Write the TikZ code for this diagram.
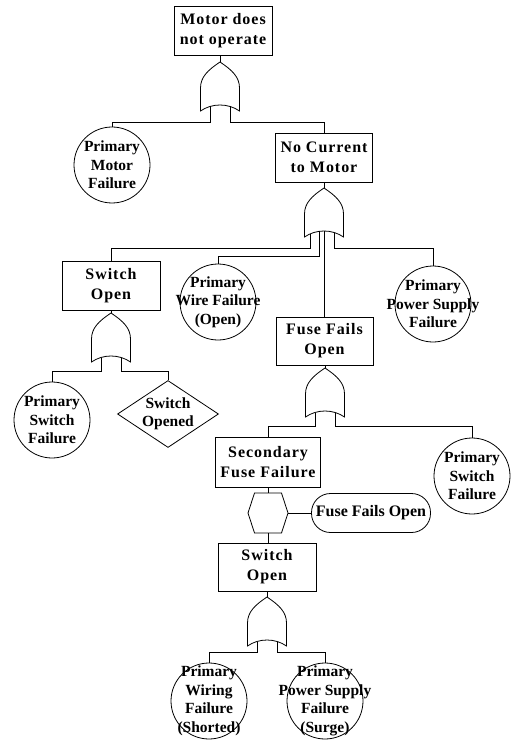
\documentclass[tikz,border=0pt]{standalone}
\usepackage{fontspec}
\setmainfont{Liberation Serif}
\newfontfamily\spacedfont[LetterSpace=6]{Liberation Serif}
\usepackage{tikz}
\usetikzlibrary{shapes.geometric}
\tikzset{ event_box/.style = {rectangle, draw, align=center, inner sep=0pt, minimum width=98pt, minimum height=49pt, font=\spacedfont\bfseries\fontsize{16}{20}\selectfont} }
\tikzset{ basic_event/.style = {circle, draw, align=center, inner sep=-15pt, minimum size=76pt, font=\bfseries\fontsize{15.5}{18.5}\selectfont} }
\tikzset{ undev_event/.style = {diamond, draw, align=center, inner sep=0pt, aspect=1.5, minimum width=101pt, minimum height=66pt, font=\bfseries\fontsize{15.5}{18.5}\selectfont} }
\tikzset{ cond_event/.style = {rectangle, rounded corners=19pt, draw, align=center, inner sep=0pt, minimum width=119pt, minimum height=39pt, font=\bfseries\fontsize{16}{20}\selectfont} }
\tikzset{ or_gate/.pic = {
                        \draw (0,0) .. controls (-12,8) and (-19.5,15) .. (-19.5,26) -- (-19.5,49)
                                .. controls (-8,41) and (8,41) .. (19.5,49) -- (19.5,26)
                                .. controls (19.5,15) and (12,8) .. (0,0) -- cycle;
                        \coordinate (-top) at (0,0);
                        \coordinate (-ll) at (-14,45.9);
                        \coordinate (-l) at (-10,44.5);
                        \coordinate (-lm) at (-5,43.4);
                        \coordinate (-m) at (0,43);
                        \coordinate (-r) at (10,44.5);
                } }
\tikzset{ inhibit_gate/.pic = {
                        \draw (-13.5,-20) -- (13.5,-20) -- (20,0) -- (13.5,20) -- (-13.5,20) -- (-20,0) -- cycle;
                        \coordinate (-top) at (0,-20);
                        \coordinate (-bot) at (0,20);
                        \coordinate (-right) at (20,0);
                } }

\begin{document}
\begin{tikzpicture}[x=1pt, y=-1pt, line width=0.8pt]
                        \useasboundingbox (0,0) rectangle (514,743);
                        % events
                        \node[event_box] (top) at (223, 30.5) {Motor does\\not operate};
                        \node[basic_event] (pmf) at (112, 165) {Primary\\Motor\\Failure};
                        \node[event_box, minimum width=97pt] (nocur) at (324, 157.5) {No Current\\to Motor};
                        \node[event_box] (swo) at (111, 285.5) {Switch\\Open};
                        \node[basic_event] (pwf) at (218, 302) {Primary\\Wire Failure\\(Open)};
                        \node[basic_event] (psf) at (433, 304) {Primary\\Power Supply\\Failure};
                        \node[basic_event] (psw) at (52, 420) {Primary\\Switch\\Failure};
                        \node[undev_event] (sop) at (168, 414) {Switch\\Opened};
                        \node[event_box, minimum width=97pt, minimum height=48pt] (fuse) at (324.5, 341) {Fuse Fails\\Open};
                        \node[event_box, minimum width=105pt, minimum height=50pt] (sec) at (268, 462) {Secondary\\Fuse Failure};
                        \node[basic_event] (psw2) at (472, 476) {Primary\\Switch\\Failure};
                        \node[cond_event] (ffo) at (371, 513) {Fuse Fails Open};
                        \node[event_box, minimum height=48pt] (swo2) at (267, 567) {Switch\\Open};
                        \node[basic_event] (pwr) at (209, 701) {Primary\\Wiring\\Failure\\(Shorted)};
                        \node[basic_event] (pps) at (325, 701) {Primary\\Power Supply\\Failure\\(Surge)};
                        % gates
                        \pic (g1) at (220, 62) {or_gate};
                        \pic (g2) at (324, 188) {or_gate};
                        \pic (gL) at (111, 313) {or_gate};
                        \pic (g3) at (325, 368) {or_gate};
                        \pic (inh) at (268, 513) {inhibit_gate};
                        \pic (g4) at (267, 597) {or_gate};
                        % connectors
                        \draw (top.south -| g1-top) to (g1-top);
                        \draw (g1-l) -- ++(0,15.5) -| (pmf.north);
                        \draw (g1-r) -- ++(0,15.5) -| (nocur.north);
                        \draw (nocur.south) to (g2-top);
                        \draw (g2-ll) -- ++(0,14.1) -| (swo.north);
                        \draw (g2-lm) -- ++(0,24.6) -| (pwf.north);
                        \draw (g2-m) to (fuse.north -| g2-m);
                        \draw (g2-r) -- ++(0,15.5) -| (psf.north);
                        \draw (swo.south) to (gL-top);
                        \draw (gL-l) -- ++(0,13.5) -| (psw.north);
                        \draw (gL-r) -- ++(0,13.5) -| (sop.north);
                        \draw (fuse.south -| g3-top) to (g3-top);
                        \draw (g3-l) -- ++(0,13.5) -| (sec.north);
                        \draw (g3-r) -- ++(0,13.5) -| (psw2.north);
                        \draw (sec.south) to (inh-top);
                        \draw (inh-right) to (ffo.west);
                        \draw (inh-bot) to (swo2.north -| inh-bot);
                        \draw (swo2.south) to (g4-top);
                        \draw (g4-l) -- ++(0,10.5) -| (pwr.north);
                        \draw (g4-r) -- ++(0,10.5) -| (pps.north);
\end{tikzpicture}
\end{document}
